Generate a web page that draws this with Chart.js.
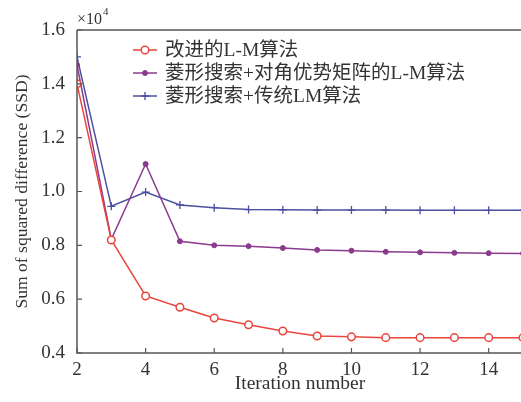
<!DOCTYPE html>
<html>
<head>
<meta charset="utf-8">
<script src="https://cdn.jsdelivr.net/npm/chart.js@4/dist/chart.umd.min.js"></script>
<style>
html,body{margin:0;padding:0;background:#fff;overflow:hidden;}
#wrap{width:530px;height:402px;}
</style>
</head>
<body>
<div id="wrap"><canvas id="c" width="530" height="402"></canvas></div>
<script>
const iterations = [2,3,4,5,6,7,8,9,10,11,12,13,14,15];
const improvedLM = [1.40,0.82,0.612,0.570,0.530,0.505,0.482,0.463,0.460,0.457,0.457,0.457,0.457,0.457];
const diamondDiagLM = [1.47,0.822,1.102,0.815,0.800,0.797,0.790,0.783,0.780,0.776,0.774,0.772,0.771,0.770];
const diamondClassicLM = [1.50,0.945,0.998,0.950,0.940,0.933,0.932,0.931,0.931,0.931,0.930,0.930,0.930,0.930];
const seriesLabels = ['改进的L-M算法','菱形搜索+对角优势矩阵的L-M算法','菱形搜索+传统LM算法'];
const xTicks = [2,4,6,8,10,12,14];
const yTicks = [0.4,0.6,0.8,1.0,1.2,1.4,1.6];

const SERIF = '"Liberation Serif","Noto Sans CJK SC",serif';
const AXIS = '#555';
const TXT = '#333';
const RED = '#e8453d', PURPLE = '#8b3b8e', BLUE = '#4b4f9f';

function pts(arr){ return arr.map((v,i)=>({x:iterations[i], y:v})); }

const decor = {
  id:'decor',
  afterDraw(chart){
    const ctx = chart.ctx, a = chart.chartArea;
    const xs = chart.scales.x, ys = chart.scales.y;
    ctx.save();
    ctx.strokeStyle = AXIS; ctx.lineWidth = 1.5;
    ctx.beginPath();
    ctx.moveTo(a.left, a.top); ctx.lineTo(a.right+2, a.top);
    ctx.moveTo(a.left, a.top); ctx.lineTo(a.left, a.bottom);
    ctx.lineTo(a.right+2, a.bottom);
    ctx.stroke();
    ctx.lineWidth = 1.2;
    ctx.beginPath();
    xTicks.forEach(v=>{ const p = xs.getPixelForValue(v); ctx.moveTo(p,a.bottom); ctx.lineTo(p,a.bottom-5); });
    yTicks.forEach(v=>{ const p = ys.getPixelForValue(v); ctx.moveTo(a.left,p); ctx.lineTo(a.left+5,p); });
    ctx.stroke();
    // exponent label
    ctx.fillStyle = TXT; ctx.textBaseline = 'alphabetic'; ctx.textAlign = 'left';
    ctx.font = '16px "Liberation Serif",serif';
    ctx.fillText('×10', a.left, 24);
    const w = ctx.measureText('×10').width;
    ctx.font = '11px "Liberation Serif",serif';
    ctx.fillText('4', a.left + w + 1, 15);
    // legend
    const ds = chart.data.datasets;
    const lx0 = 133, lx1 = 157, tx = 165, rows = [50, 73, 96];
    ds.forEach((d,i)=>{
      const y = rows[i];
      ctx.strokeStyle = d.borderColor; ctx.lineWidth = 1.5;
      ctx.beginPath(); ctx.moveTo(lx0,y); ctx.lineTo(lx1,y); ctx.stroke();
      ctx.fillStyle = d.pointBackgroundColor;
      ctx.strokeStyle = d.pointBorderColor;
      ctx.lineWidth = d.pointBorderWidth;
      Chart.helpers.drawPoint(ctx, {pointStyle:d.pointStyle, radius:d.pointRadius, borderWidth:d.pointBorderWidth, rotation:0}, (lx0+lx1)/2, y);
      ctx.fillStyle = TXT; ctx.textBaseline = 'middle';
      ctx.font = '19.5px ' + SERIF;
      ctx.fillText(d.label, tx, y+1);
    });
    ctx.restore();
  }
};

const chart = new Chart(document.getElementById('c'), {
  type:'line',
  data:{
    datasets:[
      {label:seriesLabels[0], data:pts(improvedLM), borderColor:RED, backgroundColor:'#fff',
       pointStyle:'circle', pointRadius:3.8, pointBorderWidth:1.5, borderWidth:1.5, pointBackgroundColor:'#fff', pointBorderColor:RED},
      {label:seriesLabels[1], data:pts(diamondDiagLM), borderColor:PURPLE, backgroundColor:PURPLE,
       pointStyle:'circle', pointRadius:2.5, pointBorderWidth:1, borderWidth:1.5, pointBackgroundColor:PURPLE, pointBorderColor:PURPLE},
      {label:seriesLabels[2], data:pts(diamondClassicLM), borderColor:BLUE, backgroundColor:BLUE,
       pointStyle:'cross', pointRadius:4, pointBorderWidth:1.3, borderWidth:1.5, pointBackgroundColor:BLUE, pointBorderColor:BLUE}
    ]
  },
  options:{
    responsive:false, animation:false,
    layout:{padding:{top:30,right:7,left:0,bottom:0}},
    plugins:{legend:{display:false}, tooltip:{enabled:false}},
    elements:{line:{tension:0}},
    scales:{
      x:{type:'linear', min:2, max:15,
        afterBuildTicks(s){ s.ticks = xTicks.map(v=>({value:v})); },
        afterFit(s){ s.height = 49; },
        border:{display:false},
        grid:{display:false},
        ticks:{font:{family:SERIF,size:19}, color:TXT, padding:-2, maxRotation:0, autoSkip:false},
        title:{display:true, text:'Iteration number', font:{family:SERIF,size:19.5}, color:TXT, padding:{top:0,bottom:6}}
      },
      y:{type:'linear', min:0.4, max:1.6,
        afterBuildTicks(s){ s.ticks = yTicks.map(v=>({value:v})); },
        afterFit(s){ s.width = 77; },
        border:{display:false},
        grid:{display:false},
        ticks:{font:{family:SERIF,size:19}, color:TXT, padding:4, callback:v=>Number(v).toFixed(1)},
        title:{display:true, text:'Sum of squared difference (SSD)', font:{family:SERIF,size:17.6}, color:TXT, padding:{top:12,bottom:0}}
      }
    }
  },
  plugins:[decor]
});
</script>
</body>
</html>
